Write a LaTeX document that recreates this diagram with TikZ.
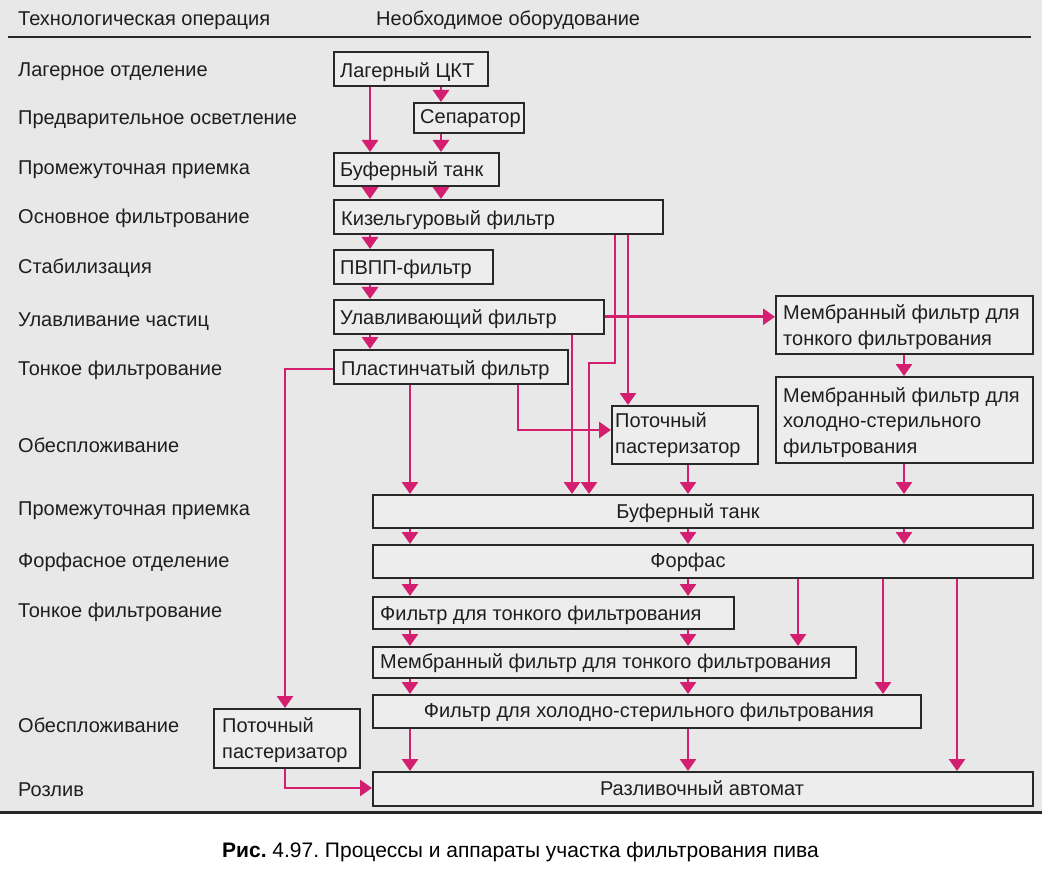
\documentclass[tikz,border=0pt]{standalone}
\usepackage{fontspec}
\setmainfont{Liberation Sans}
\usetikzlibrary{arrows.meta}
\frenchspacing
\definecolor{bgc}{RGB}{232,232,232}
\definecolor{boxfill}{RGB}{237,237,237}
\definecolor{boxline}{RGB}{40,40,40}
\definecolor{txtc}{RGB}{30,30,30}
\definecolor{mag}{RGB}{212,30,112}
\tikzset{
  box/.style={draw=boxline, fill=boxfill, line width=1.6pt, inner sep=0pt, rectangle, anchor=north west},
  lbl/.style={font=\fontsize{20}{25.5}\selectfont, text=txtc, inner sep=0pt, anchor=base west},
  mlbl/.style={lbl, align=left},
  clbl/.style={font=\fontsize{20}{25.5}\selectfont, text=txtc, inner sep=0pt, anchor=base},
  capt/.style={font=\fontsize{21}{25}\selectfont, text=black, inner sep=0pt, anchor=base west},
  arr/.style={draw=mag, line width=2.8pt, -{Triangle[width=16pt,length=12pt]}},
  rule/.style={draw=boxline, line width=1.8pt}
}
\begin{document}
\begin{tikzpicture}[x=1pt, y=-1pt]
\useasboundingbox (0,0) rectangle (1042,869);
\fill[white] (0,0) rectangle (1042,869);
\fill[bgc] (0,0) rectangle (1042,812);

% header
\node[lbl] (h1) at (18,26) {Технологическая операция};
\node[lbl] (h2) at (376,26) {Необходимое оборудование};
\coordinate (hlL) at (8,37);
\coordinate (hlR) at (1031,37);
\draw[rule] (hlL) -- (hlR);
\coordinate (blL) at (0,812);
\coordinate (blR) at (1042,812);
\draw[draw=black!85, line width=3pt] (blL) -- (blR);

% left column labels
\node[lbl] (l1) at (18,77) {Лагерное отделение};
\node[lbl] (l2) at (18,125) {Предварительное осветление};
\node[lbl] (l3) at (18,175) {Промежуточная приемка};
\node[lbl] (l4) at (18,224) {Основное фильтрование};
\node[lbl] (l5) at (18,273) {Стабилизация};
\node[lbl] (l6) at (18,326) {Улавливание частиц};
\node[lbl] (l7) at (18,375) {Тонкое фильтрование};
\node[lbl] (l8) at (18,452) {Обеспложивание};
\node[lbl] (l9) at (18,515) {Промежуточная приемка};
\node[lbl] (l10) at (18,567) {Форфасное отделение};
\node[lbl] (l11) at (18,617) {Тонкое фильтрование};
\node[lbl] (l12) at (18,732) {Обеспложивание};
\node[lbl] (l13) at (18,796) {Розлив};

% boxes
\node[box, minimum width=154pt, minimum height=34pt] (lct) at (333,51) {};
\node[box, minimum width=110pt, minimum height=30pt] (sep) at (413,102) {};
\node[box, minimum width=165pt, minimum height=33pt] (buf1) at (333,152) {};
\node[box, minimum width=329pt, minimum height=34pt] (kiz) at (333,199) {};
\node[box, minimum width=159pt, minimum height=34pt] (pvpp) at (333,249) {};
\node[box, minimum width=270pt, minimum height=34pt] (ulav) at (333,299) {};
\node[box, minimum width=234pt, minimum height=34pt] (plast) at (333,349) {};
\node[box, minimum width=146pt, minimum height=58pt] (past1) at (611,405) {};
\node[box, minimum width=257pt, minimum height=58pt] (mem1) at (775,295) {};
\node[box, minimum width=257pt, minimum height=86pt] (mem2) at (775,376) {};
\node[box, minimum width=660pt, minimum height=33pt] (buf2) at (372,494) {};
\node[box, minimum width=660pt, minimum height=33pt] (forf) at (372,544) {};
\node[box, minimum width=361pt, minimum height=32pt] (fine) at (372,596) {};
\node[box, minimum width=483pt, minimum height=31pt] (memf) at (372,646) {};
\node[box, minimum width=548pt, minimum height=33pt] (cold) at (372,694) {};
\node[box, minimum width=660pt, minimum height=34pt] (razl) at (372,771) {};
\node[box, minimum width=146pt, minimum height=59pt] (past2) at (213,708) {};

% box texts (multi-line nodes: base = last line)
\node[lbl] (lctT) at (340,78) {Лагерный ЦКТ};
\node[lbl] (sepT) at (420,124) {Сепаратор};
\node[lbl] (buf1T) at (340,177) {Буферный танк};
\node[lbl] (kizT) at (341,226) {Кизельгуровый фильтр};
\node[lbl] (pvppT) at (340,275) {ПВПП-фильтр};
\node[lbl] (ulavT) at (340,324) {Улавливающий фильтр};
\node[lbl] (plastT) at (341,375) {Пластинчатый фильтр};
\node[mlbl] (past1T) at (615,453) {Поточный\\пастеризатор};
\node[mlbl] (mem1T) at (783,345) {Мембранный фильтр для\\тонкого фильтрования};
\node[mlbl] (mem2T) at (783,453) {Мембранный фильтр для\\холодно-стерильного\\фильтрования};
\node[clbl] (buf2T) at (688,518) {Буферный танк};
\node[clbl] (forfT) at (688,567) {Форфас};
\node[lbl] (fineT) at (380,620) {Фильтр для тонкого фильтрования};
\node[lbl] (memfT) at (380,668) {Мембранный фильтр для тонкого фильтрования};
\node[clbl] (coldT) at (649,717) {Фильтр для холодно-стерильного фильтрования};
\node[clbl] (razlT) at (702,795) {Разливочный автомат};
\node[mlbl] (past2T) at (222,758) {Поточный\\пастеризатор};

% column / row coordinates
\coordinate (xA) at (370,0);
\coordinate (xB) at (441,0);
\coordinate (xP) at (410,0);
\coordinate (xU) at (572,0);
\coordinate (xJ) at (589,0);
\coordinate (xK) at (615,0);
\coordinate (xL) at (628,0);
\coordinate (xT) at (518,0);
\coordinate (xM) at (688,0);
\coordinate (xR) at (904,0);
\coordinate (xF1) at (798,0);
\coordinate (xF2) at (883,0);
\coordinate (xF3) at (957,0);
\coordinate (xS) at (285,0);
\coordinate (yJ) at (0,363);
\coordinate (yT) at (0,430);
\coordinate (yS) at (0,369);
\coordinate (yV) at (0,788);

% connectors
\draw[arr] (lct.south -| xA) -- (buf1.north -| xA);
\draw[arr] (lct.south -| xB) -- (sep.north -| xB);
\draw[arr] (sep.south -| xB) -- (buf1.north -| xB);
\draw[arr] (buf1.south -| xA) -- (kiz.north -| xA);
\draw[arr] (buf1.south -| xB) -- (kiz.north -| xB);
\draw[arr] (kiz.south -| xA) -- (pvpp.north -| xA);
\draw[arr] (pvpp.south -| xA) -- (ulav.north -| xA);
\draw[arr] (ulav.south -| xA) -- (plast.north -| xA);
\draw[arr] (kiz.south -| xL) -- (past1.north -| xL);
\draw[arr] (kiz.south -| xK) |- (yJ -| xJ) -- (buf2.north -| xJ);
\draw[arr] (ulav.south -| xU) -- (buf2.north -| xU);
\draw[arr] (ulav.east) -- (mem1.west |- ulav.east);
\draw[arr] (plast.south -| xT) |- (past1.west |- yT);
\draw[arr] (plast.south -| xP) -- (buf2.north -| xP);
\draw[arr] (plast.west |- yS) -| (past2.north -| xS);
\draw[arr] (mem1.south -| xR) -- (mem2.north -| xR);
\draw[arr] (mem2.south -| xR) -- (buf2.north -| xR);
\draw[arr] (past1.south -| xM) -- (buf2.north -| xM);
\draw[arr] (buf2.south -| xP) -- (forf.north -| xP);
\draw[arr] (buf2.south -| xM) -- (forf.north -| xM);
\draw[arr] (buf2.south -| xR) -- (forf.north -| xR);
\draw[arr] (forf.south -| xP) -- (fine.north -| xP);
\draw[arr] (forf.south -| xM) -- (fine.north -| xM);
\draw[arr] (forf.south -| xF1) -- (memf.north -| xF1);
\draw[arr] (forf.south -| xF2) -- (cold.north -| xF2);
\draw[arr] (forf.south -| xF3) -- (razl.north -| xF3);
\draw[arr] (fine.south -| xP) -- (memf.north -| xP);
\draw[arr] (fine.south -| xM) -- (memf.north -| xM);
\draw[arr] (memf.south -| xP) -- (cold.north -| xP);
\draw[arr] (memf.south -| xM) -- (cold.north -| xM);
\draw[arr] (cold.south -| xP) -- (razl.north -| xP);
\draw[arr] (cold.south -| xM) -- (razl.north -| xM);
\draw[arr] (past2.south -| xS) |- (razl.west |- yV);

% caption
\node[capt] (cap) at (222,857) {\textbf{Рис.} 4.97. Процессы и аппараты участка фильтрования пива};
\end{tikzpicture}
\end{document}
